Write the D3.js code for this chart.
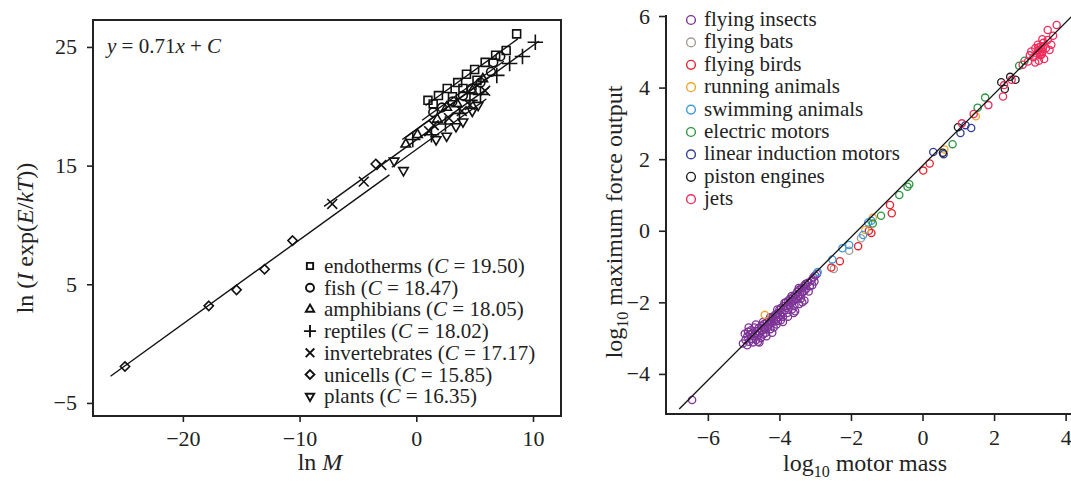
<!DOCTYPE html>
<html>
<head>
<meta charset="utf-8">
<script src="https://cdn.jsdelivr.net/npm/d3@7"></script>
<style>
  body { margin: 0; background: #fff; }
  svg { font-family: "Liberation Serif", "DejaVu Serif", serif; }
  .tick text { font-family: "Liberation Serif", serif; font-size: 22px; fill: #222; }
  .tick line { stroke: #222; stroke-width: 1.6; }
</style>
</head>
<body>
<svg class="viz"></svg>
<script>
var width = 1071,
  height = 481;

// ---- left panel: ln(I exp(E/kT)) vs ln M ----
var groups_left = ["endotherms", "fish", "amphibians", "reptiles", "invertebrates", "unicells", "plants"];
var intercepts = [19.50, 18.47, 18.05, 18.02, 17.17, 15.85, 16.35];
var slope_left = 0.71;

var endotherms = [[1.0, 20.5], [1.45, 20.2], [1.9, 20.9], [2.65, 21.5], [3.1, 20.8], [3.55, 22.0], [4.0, 21.5],
  [4.3, 22.7], [5.0, 23.1], [5.2, 22.2], [5.9, 23.7], [6.8, 24.3], [7.7, 24.7], [8.6, 26.1]];
var fish = [[1.45, 19.5], [2.2, 19.9], [3.1, 20.4], [4.0, 20.9], [4.75, 21.5], [5.5, 22.0], [6.4, 22.9],
  [6.6, 23.7], [7.2, 24.2]];
var amphibians = [[-0.9, 16.8], [0.1, 17.6], [1.8, 18.9], [2.6, 19.9], [3.5, 20.2], [4.8, 21.3], [5.7, 22.3]];
var reptiles = [[-0.3, 17.2], [1.3, 17.6], [2.5, 18.5], [3.7, 19.4], [4.6, 20.5], [5.5, 21.0], [6.9, 22.6],
  [8.0, 23.6], [9.1, 24.2], [10.2, 25.4]];
var invertebrates = [[-7.2, 11.77], [-4.5, 13.65], [-3.0, 15.06], [1.1, 17.9], [1.5, 18.4], [2.8, 19.0],
  [3.9, 19.6], [4.6, 20.1], [5.9, 21.3]];
var unicells = [[-24.96, -1.93], [-17.78, 3.18], [-15.4, 4.53], [-13.0, 6.27], [-10.6, 8.68], [-3.47, 15.14]];
var plants = [[-1.9, 15.4], [-1.1, 14.6], [1.7, 17.2], [2.6, 17.5], [3.4, 18.3], [4.0, 18.7], [4.8, 19.6],
  [5.3, 20.1]];
// x extent of each fitted line
var line_ranges = [[0.8, 8.7], [0.5, 7.5], [-1.2, 6.2], [-1.0, 10.5], [-7.9, 6.2], [-26.2, -2.3], [-2.1, 6.0]];

var xticks_left = [-20, -10, 0, 10];
var yticks_left = [-5, 5, 15, 25];

// ---- right panel: log10 max force vs log10 motor mass ----
var groups_right = ["flying insects", "flying bats", "flying birds", "running animals", "swimming animals",
  "electric motors", "linear induction motors", "piston engines", "jets"];
var colors_right = ["#7d3396", "#a39d94", "#e8222c", "#f2a52a", "#3d9bdc", "#2b9440", "#2f3d98", "#1e1e1e", "#ef2c5c"];

var flying_insects = [[-6.44, -4.73], [-5.02, -3.15], [-4.95, -3.05], [-4.9, -2.95], [-4.88, -2.82], [-4.85, -3.1],
  [-4.82, -2.9], [-4.8, -2.78], [-4.78, -3.02], [-4.75, -2.85], [-4.72, -2.95], [-4.7, -2.7], [-4.68, -2.88],
  [-4.65, -3.05], [-4.62, -2.8], [-4.6, -2.92], [-4.58, -2.72], [-4.55, -2.85], [-4.52, -3.0], [-4.5, -2.65],
  [-4.48, -2.78], [-4.45, -2.9], [-4.42, -2.6], [-4.4, -2.72], [-4.38, -2.85], [-4.35, -2.55], [-4.32, -2.68],
  [-4.3, -2.5], [-4.28, -2.62], [-4.25, -2.75], [-4.22, -2.45], [-4.2, -2.58], [-4.18, -2.4], [-4.15, -2.52],
  [-4.12, -2.35], [-4.1, -2.48], [-4.08, -2.62], [-4.05, -2.3], [-4.02, -2.42], [-4.0, -2.2], [-3.98, -2.35],
  [-3.95, -2.15], [-3.92, -2.28], [-3.9, -2.4], [-3.88, -2.1], [-3.85, -2.22], [-3.82, -2.0], [-3.8, -2.15],
  [-3.78, -2.3], [-3.75, -1.95], [-3.72, -2.08], [-3.7, -1.9], [-3.68, -2.02], [-3.65, -2.2], [-3.62, -1.85],
  [-3.6, -1.95], [-3.58, -2.1], [-3.55, -1.78], [-3.52, -1.9], [-3.5, -1.7], [-3.48, -1.82], [-3.45, -1.65],
  [-3.42, -1.78], [-3.4, -1.9], [-3.38, -1.6], [-3.35, -1.72], [-3.32, -1.55], [-3.3, -1.68], [-3.28, -1.5],
  [-3.25, -1.62], [-3.2, -1.45], [-3.15, -1.55], [-3.1, -1.38], [-3.05, -1.3], [-3.0, -1.25], [-2.95, -1.2],
  [-3.6, -2.3], [-4.2, -2.85], [-3.3, -1.95], [-4.6, -3.1], [-4.9, -3.2], [-3.9, -2.55], [-3.45, -2.05],
  [-4.97, -2.88], [-4.86, -2.7], [-4.74, -3.12], [-4.66, -2.62], [-4.56, -3.12], [-4.46, -2.55],
  [-4.36, -2.95], [-4.26, -2.42], [-4.16, -2.7], [-4.06, -2.2], [-3.96, -2.5], [-3.86, -2.02],
  [-3.76, -2.4], [-3.66, -1.82], [-3.56, -2.25], [-3.46, -1.6], [-3.36, -2.0], [-3.26, -1.48],
  [-3.18, -1.7], [-3.08, -1.52], [-3.02, -1.42], [-4.44, -2.7], [-4.04, -2.52], [-3.64, -1.98]];
var flying_bats = [[-2.48, -1.07], [-2.05, -0.56], [-1.72, -0.21]];
var flying_birds = [[-2.55, -1.03], [-2.31, -0.85], [-1.8, -0.43], [-1.43, -0.06], [-1.5, 0.0], [-0.91, 0.72],
  [-0.86, 0.49], [0.02, 1.68], [0.2, 1.88]];
var running_animals = [[-4.41, -2.35], [-1.6, 0.02], [-1.39, 0.36], [0.61, 2.27], [1.49, 3.2]];
var swimming_animals = [[-2.93, -1.15], [-2.52, -0.8], [-2.24, -0.49], [-2.05, -0.4], [-1.66, -0.12],
  [-1.52, 0.23], [-1.43, 0.28]];
var electric_motors = [[-1.39, 0.2], [-1.16, 0.42], [-0.65, 1.0], [-0.42, 1.23], [-0.37, 1.3], [0.84, 2.42],
  [1.54, 3.44], [1.75, 3.72], [2.7, 4.61], [2.85, 4.75]];
var linear_induction = [[0.3, 2.2], [0.59, 2.14], [1.06, 2.73], [1.36, 2.87], [1.2, 2.95]];
var piston_engines = [[0.57, 2.18], [0.99, 2.89], [2.2, 4.15], [2.6, 4.22], [2.3, 3.96], [2.45, 4.3]];
var jets = [[1.1, 3.0], [1.43, 3.26], [1.84, 3.51], [2.25, 3.75], [2.28, 4.07], [2.49, 4.22], [2.8, 4.64],
  [2.95, 4.73], [3.04, 5.01], [3.1, 4.85], [3.15, 5.1], [3.2, 4.95], [3.22, 5.2], [3.25, 5.05], [3.3, 4.9],
  [3.3, 5.15], [3.35, 5.0], [3.38, 5.25], [3.4, 4.8], [3.25, 4.75], [3.45, 5.1], [3.5, 5.33], [3.55, 5.05],
  [3.6, 5.2], [3.5, 5.61], [3.75, 5.75], [3.15, 4.7], [3.0, 4.9], [3.35, 5.35], [3.65, 5.45],
  [3.28, 5.0], [3.32, 5.08], [3.27, 4.95], [3.33, 4.93], [3.24, 5.12], [3.36, 5.12]];
var slope_right = 1.0, intercept_right = 1.82;
var fit_range_right = [-6.8, 4.4];

var xticks_right = [-6, -4, -2, 0, 2, 4];
var yticks_right = [-4, -2, 0, 2, 4, 6];

var data_left = [endotherms, fish, amphibians, reptiles, invertebrates, unicells, plants];
var data_right = [flying_insects, flying_bats, flying_birds, running_animals, swimming_animals,
  electric_motors, linear_induction, piston_engines, jets];

var svg = d3.select(".viz").attr("width", width).attr("height", height);

// symbols for the left panel (stroke based)
var sym_types = [d3.symbolSquare2 || d3.symbolSquare, d3.symbolCircle, d3.symbolTriangle2 || d3.symbolTriangle,
  d3.symbolPlus || d3.symbolCross, d3.symbolTimes || d3.symbolCross, d3.symbolDiamond2 || d3.symbolDiamond,
  d3.symbolTriangle2 || d3.symbolTriangle];
var sym_sizes = [80, 60, 65, 80, 65, 55, 65];
var sym_rot = [0, 0, 0, 0, 0, 0, 180];

function clean_axis(g) {
  g.attr("font-family", null).attr("font-size", null);
  g.select(".domain").remove();
}

/* ---------- left panel ---------- */
var xL = d3.scaleLinear().domain([-27.7, 12.4]).range([93, 561]);
var yL = d3.scaleLinear().domain([-6.1, 27.27]).range([416, 20]);

var left = svg.append("g");

left.append("g")
  .attr("transform", "translate(0,416)")
  .call(d3.axisBottom(xL).tickValues(xticks_left).tickSize(6).tickPadding(8))
  .call(clean_axis);
left.append("g")
  .attr("transform", "translate(93,0)")
  .call(d3.axisLeft(yL).tickValues(yticks_left).tickSize(6).tickPadding(10))
  .call(clean_axis);

left.append("rect")
  .attr("x", 93).attr("y", 20)
  .attr("width", 561 - 93).attr("height", 416 - 20)
  .attr("fill", "none").attr("stroke", "#222").attr("stroke-width", 2);

// fitted lines
left.selectAll(".fit")
  .data(intercepts)
  .enter()
  .append("line")
  .attr("class", "fit")
  .attr("x1", (c, i) => xL(line_ranges[i][0]))
  .attr("x2", (c, i) => xL(line_ranges[i][1]))
  .attr("y1", (c, i) => yL(slope_left * line_ranges[i][0] + c))
  .attr("y2", (c, i) => yL(slope_left * line_ranges[i][1] + c))
  .attr("stroke", "#111").attr("stroke-width", 1.4);

data_left.forEach(function(pts, gi) {
  var sym = d3.symbol().type(sym_types[gi]).size(sym_sizes[gi]);
  left.append("g").selectAll("path")
    .data(pts)
    .enter()
    .append("path")
    .attr("d", sym)
    .attr("transform", d => "translate(" + xL(d[0]) + "," + yL(d[1]) + ") rotate(" + sym_rot[gi] + ")")
    .attr("fill", "none")
    .attr("stroke", "#111")
    .attr("stroke-width", 1.6);
});

// equation
var eq = left.append("text").attr("x", 107).attr("y", 53).attr("font-size", 21).attr("fill", "#222");
eq.append("tspan").attr("font-style", "italic").text("y");
eq.append("tspan").text(" = 0.71");
eq.append("tspan").attr("font-style", "italic").text("x");
eq.append("tspan").text(" + ");
eq.append("tspan").attr("font-style", "italic").text("C");

// legend
var legL = left.append("g");
groups_left.forEach(function(name, i) {
  var y = 266 + i * 21.7;
  var sym = d3.symbol().type(sym_types[i]).size(50);
  legL.append("path").attr("d", sym)
    .attr("transform", "translate(310," + y + ") rotate(" + sym_rot[i] + ")")
    .attr("fill", "none").attr("stroke", "#111").attr("stroke-width", 1.9);
  var t = legL.append("text").attr("x", 324).attr("y", y + 7).attr("font-size", 21).attr("fill", "#222");
  t.append("tspan").text(name + " (");
  t.append("tspan").attr("font-style", "italic").text("C");
  t.append("tspan").text(" = " + intercepts[i].toFixed(2) + ")");
});

// axis titles
var xtL = left.append("text").attr("x", 320).attr("y", 470).attr("text-anchor", "middle")
  .attr("font-size", 24).attr("fill", "#222");
xtL.append("tspan").text("ln ");
xtL.append("tspan").attr("font-style", "italic").text("M");

var ytL = left.append("text").attr("transform", "translate(33,238) rotate(-90)")
  .attr("text-anchor", "middle").attr("font-size", 24).attr("fill", "#222");
ytL.append("tspan").text("ln (");
ytL.append("tspan").attr("font-style", "italic").text("I");
ytL.append("tspan").text(" exp(");
ytL.append("tspan").attr("font-style", "italic").text("E");
ytL.append("tspan").text("/");
ytL.append("tspan").attr("font-style", "italic").text("kT");
ytL.append("tspan").text("))");

/* ---------- right panel ---------- */
var xR = d3.scaleLinear().domain([-7.17, 4.15]).range([666, 1071]);
var yR = d3.scaleLinear().domain([-5.12, 6]).range([414, 16]);

var right = svg.append("g");

right.append("g")
  .attr("transform", "translate(0,414)")
  .call(d3.axisBottom(xR).tickValues(xticks_right).tickSize(7).tickPadding(8))
  .call(clean_axis);
right.append("g")
  .attr("transform", "translate(666,0)")
  .call(d3.axisLeft(yR).tickValues(yticks_right).tickSize(7).tickPadding(9))
  .call(clean_axis);

right.append("line").attr("x1", 666).attr("x2", 1071).attr("y1", 414).attr("y2", 414)
  .attr("stroke", "#222").attr("stroke-width", 2);
right.append("line").attr("x1", 666).attr("x2", 666).attr("y1", 15).attr("y2", 415)
  .attr("stroke", "#222").attr("stroke-width", 2);

data_right.forEach(function(pts, gi) {
  right.append("g").selectAll("circle")
    .data(pts)
    .enter()
    .append("circle")
    .attr("cx", d => xR(d[0]))
    .attr("cy", d => yR(d[1]))
    .attr("r", 3.6)
    .attr("fill", "none")
    .attr("stroke", colors_right[gi])
    .attr("stroke-width", 1.3);
});

right.append("line")
  .attr("x1", xR(fit_range_right[0])).attr("y1", yR(slope_right * fit_range_right[0] + intercept_right))
  .attr("x2", xR(fit_range_right[1])).attr("y2", yR(slope_right * fit_range_right[1] + intercept_right))
  .attr("stroke", "#111").attr("stroke-width", 1.3);

var legR = right.append("g");
groups_right.forEach(function(name, i) {
  var y = 20 + i * 22.4;
  legR.append("circle").attr("cx", 691).attr("cy", y).attr("r", 4.4)
    .attr("fill", "none").attr("stroke", colors_right[i]).attr("stroke-width", 1.4);
  legR.append("text").attr("x", 704).attr("y", y + 6).attr("font-size", 21).attr("fill", "#222").text(name);
});

var xtR = right.append("text").attr("x", 865).attr("y", 471).attr("text-anchor", "middle")
  .attr("font-size", 24).attr("fill", "#222");
xtR.append("tspan").text("log");
xtR.append("tspan").attr("font-size", 16).attr("dy", 6).text("10");
xtR.append("tspan").attr("dy", -6).text(" motor mass");

var ytR = right.append("text").attr("transform", "translate(622,222) rotate(-90)")
  .attr("text-anchor", "middle").attr("font-size", 24).attr("fill", "#222");
ytR.append("tspan").text("log");
ytR.append("tspan").attr("font-size", 16).attr("dy", 6).text("10");
ytR.append("tspan").attr("dy", -6).text(" maximum force output");
</script>
</body>
</html>
